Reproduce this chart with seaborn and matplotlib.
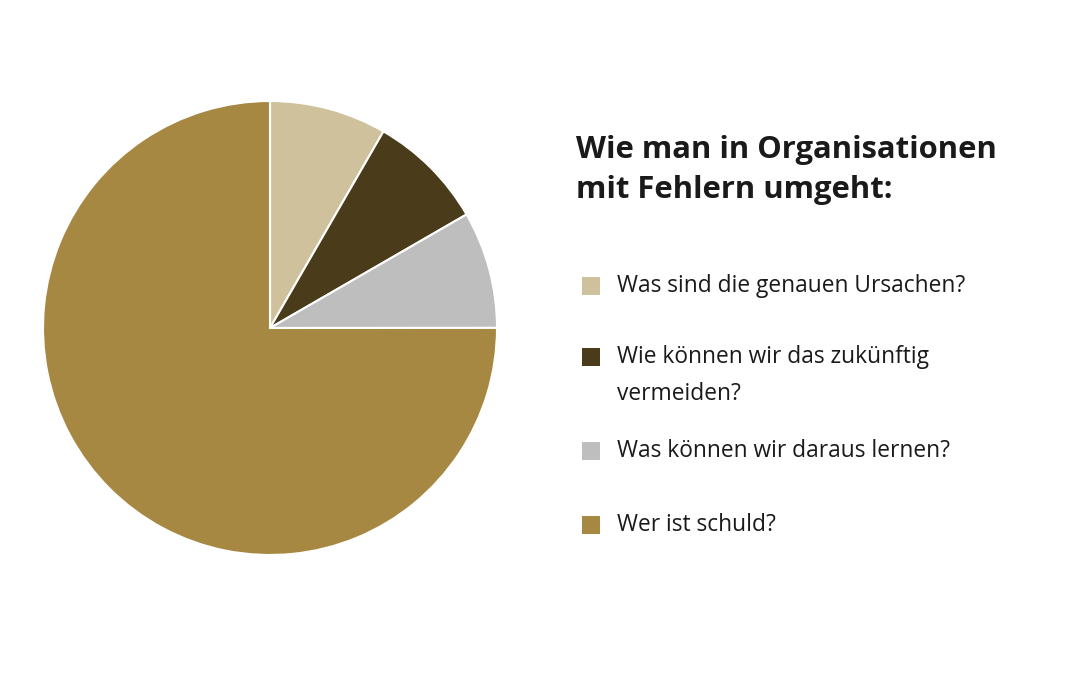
import matplotlib.pyplot as plt
import seaborn as sns
from matplotlib.patches import Rectangle

# data
categories = [
    "Was sind die genauen Ursachen?",
    "Wie können wir das zukünftig\nvermeiden?",
    "Was können wir daraus lernen?",
    "Wer ist schuld?",
]
shares = [8.33, 8.33, 8.33, 75.0]
colors = ["#D0C19D", "#4A3C1A", "#BEBEBE", "#A68842"]
title = "Wie man in Organisationen\nmit Fehlern umgeht:"

sns.set_theme(style="white")
plt.rcParams["font.family"] = ["Open Sans", "DejaVu Sans"]

fig = plt.figure(figsize=(10.8, 6.75), dpi=100)
fig.patch.set_facecolor("white")

# pie: clockwise from the top
ax = fig.add_axes([43 / 1080, (675 - 555) / 675, 454 / 1080, 454 / 675])
ax.pie(shares, colors=colors, startangle=90, counterclock=False,
       wedgeprops=dict(edgecolor="white", linewidth=1.5))
ax.set_xlim(-1, 1)
ax.set_ylim(-1, 1)
ax.set_aspect("equal")
ax.axis("off")

# legend drawn by hand in pixel coordinates
lx = fig.add_axes([0, 0, 1, 1])
lx.set_xlim(0, 1080)
lx.set_ylim(675, 0)
lx.axis("off")

lx.text(576, 170, title, fontsize=22.3, fontweight="bold", color="#1a1a1a",
        va="center", ha="left", linespacing=1.44)

item_y = [286, 357, 451, 525]
for label, col, y in zip(categories, colors, item_y):
    lx.add_patch(Rectangle((582, y - 9), 18, 18, color=col, lw=0))
    lx.text(617, y - 12, label, fontsize=16.4, color="#1a1a1a",
            va="top", ha="left", linespacing=1.72)

fig.savefig("out.png", dpi=100, facecolor="white")
